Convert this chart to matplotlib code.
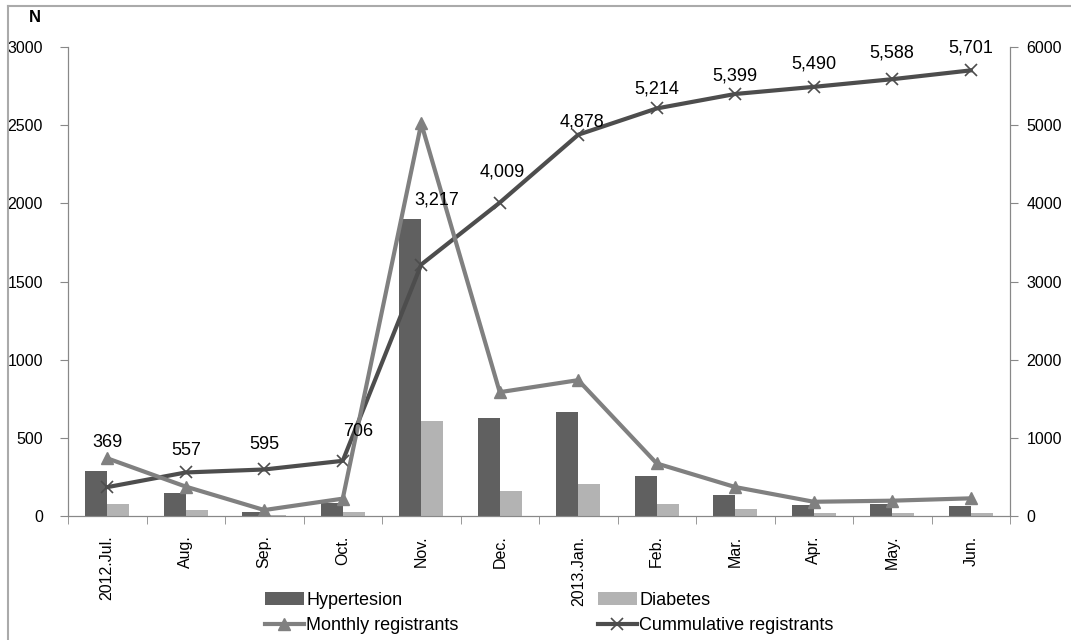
import matplotlib.pyplot as plt
import numpy as np

# datos
meses = ["2012.Jul.", "Aug.", "Sep.", "Oct.", "Nov.", "Dec.", "2013.Jan.",
         "Feb.", "Mar.", "Apr.", "May.", "Jun."]
hipertension = [288, 145, 26, 85, 1900, 625, 667, 254, 136, 68, 79, 62]
diabetes = [77, 36, 8, 26, 610, 162, 203, 77, 45, 17, 17, 17]
mensual = [369, 188, 38, 111, 2511, 792, 869, 336, 185, 91, 98, 113]
acumulado = [369, 557, 595, 706, 3217, 4009, 4878, 5214, 5399, 5490, 5588, 5701]

# desplazamiento de las etiquetas (en puntos), como en el original
dx_etiq = [0, 0, 0, 11, 11, 2, 3, 0, 0, 0, 0, 0]
dy_etiq = [26, 10, 12, 15, 40, 16, 3, 8, 7, 10, 13, 10]

plt.rcParams['font.family'] = ['Liberation Sans', 'DejaVu Sans']
plt.rcParams['font.size'] = 11.5

fig = plt.figure(figsize=(10.71, 6.4), dpi=100)
ax = fig.add_axes([68 / 1071, 1 - 516 / 640, 942 / 1071, 469 / 640])
ax2 = ax.twinx()
ax.set_zorder(ax2.get_zorder() + 1)
ax.patch.set_visible(False)

x = np.arange(len(meses))
w = 0.28
b1 = ax.bar(x - w / 2, hipertension, w, color="#606060", label="Hypertesion")
b2 = ax.bar(x + w / 2, diabetes, w, color="#b3b3b3", label="Diabetes")

ax.set_xlim(-0.5, 11.5)
ax.set_ylim(0, 3000)
ax2.set_ylim(0, 6000)

# acumulado en el eje derecho, pero dibujado en ax para que quede encima de las barras
l2, = ax.plot(x, acumulado, color="#4d4d4d", lw=3, marker="x", ms=9,
              mew=1.2, transform=ax2.transData, label="Cummulative registrants")
l1, = ax.plot(x, mensual, color="#808080", lw=3, marker="^", ms=9,
              label="Monthly registrants")

for xi, v, dx, dy in zip(x, acumulado, dx_etiq, dy_etiq):
    ax.annotate(f"{v:,}", (xi, v), xycoords=ax2.transData, xytext=(dx, dy),
                textcoords="offset points", ha="center", va="bottom", fontsize=13)

ax.set_yticks(range(0, 3001, 500))
ax2.set_yticks(range(0, 6001, 1000))
ax.set_xticks(x)
ax.set_xticklabels(meses, rotation=90)
ax.tick_params(axis="x", length=0, pad=14)
ax.set_xticks(np.arange(-0.5, 12, 1), minor=True)
ax.tick_params(axis="x", which="minor", length=6, color="#888888")
ax.tick_params(axis="y", length=6, color="#888888", pad=12)
ax2.tick_params(axis="y", length=6, color="#888888", pad=6)

for a in (ax, ax2):
    a.spines["top"].set_visible(False)
    for s in ("left", "right", "bottom"):
        a.spines[s].set_color("#888888")

fig.text(35 / 1071, 1 - 18 / 640, "N", fontweight="bold", ha="center", va="center",
         fontsize=12)

fig.legend([b1, l1, b2, l2],
           ["Hypertesion", "Monthly registrants", "Diabetes", "Cummulative registrants"],
           ncol=2, loc="center", bbox_to_anchor=(549 / 1071, 1 - 613 / 640),
           frameon=False, columnspacing=7.7, handlelength=2.2, handletextpad=0.1,
           labelspacing=0.45, borderaxespad=0, fontsize=13)

# borde del recorte (solo izquierda y arriba)
fig.add_artist(plt.Line2D([7.5 / 1071, 7.5 / 1071], [0, 1 - 6 / 640],
                          transform=fig.transFigure, color="#aaaaaa", lw=1.5))
fig.add_artist(plt.Line2D([7.5 / 1071, 1], [1 - 6 / 640, 1 - 6 / 640],
                          transform=fig.transFigure, color="#aaaaaa", lw=1.5))

fig.savefig("out.png", dpi=100)
